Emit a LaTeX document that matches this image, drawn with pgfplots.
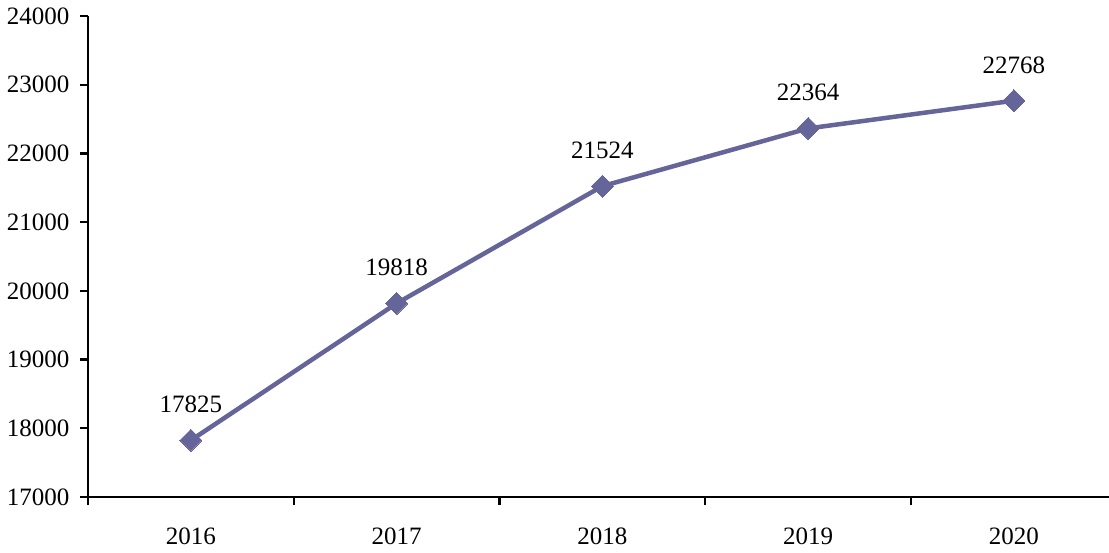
\documentclass[border=0pt]{standalone}
\usepackage{fontspec}
\setmainfont{Liberation Serif}
\usepackage{pgfplots}
\pgfplotsset{compat=1.18}
\definecolor{linec}{HTML}{65659A}
\begin{document}
\begin{tikzpicture}[font=\fontsize{25}{30}\selectfont]
\begin{axis}[
  scale only axis,
  width=1021pt, height=481pt,
  xmin=-0.5, xmax=4.462,
  ymin=17000, ymax=24000,
  ytick={17000,18000,...,24000},
  xtick={-0.5,0.5,1.5,2.5,3.5},
  xticklabels={},
  extra x ticks={0,1,2,3,4},
  extra x tick labels={2016,2017,2018,2019,2020},
  extra x tick style={major tick length=0pt, xticklabel style={yshift=-27pt}},
  axis x line*=bottom, axis y line*=left,
  axis line style={line width=2.2pt, -},
  tick style={line width=2.2pt, black},
  major tick length=8pt,
  tick align=outside,
  scaled y ticks=false,
  /pgf/number format/assume math mode=true,
  yticklabel={\pgfmathprintnumber[fixed,1000 sep={}]{\tick}},
  yticklabel style={xshift=-7pt},
  nodes near coords,
  point meta=explicit symbolic,
  nodes near coords style={anchor=south, yshift=24pt, text=black},
  clip=false,
]
\addplot[color=linec, line width=4.5pt, mark=square*, mark size=7.8pt,
  mark options={rotate=45, fill=linec, draw=linec, line width=0pt}]
  coordinates {(0,17825)[17825] (1,19818)[19818] (2,21524)[21524] (3,22364)[22364] (4,22768)[22768]};
\end{axis}
\pgfresetboundingbox
\path[use as bounding box] (-88pt,-56pt) rectangle (1021pt,497pt);
\end{tikzpicture}
\end{document}
